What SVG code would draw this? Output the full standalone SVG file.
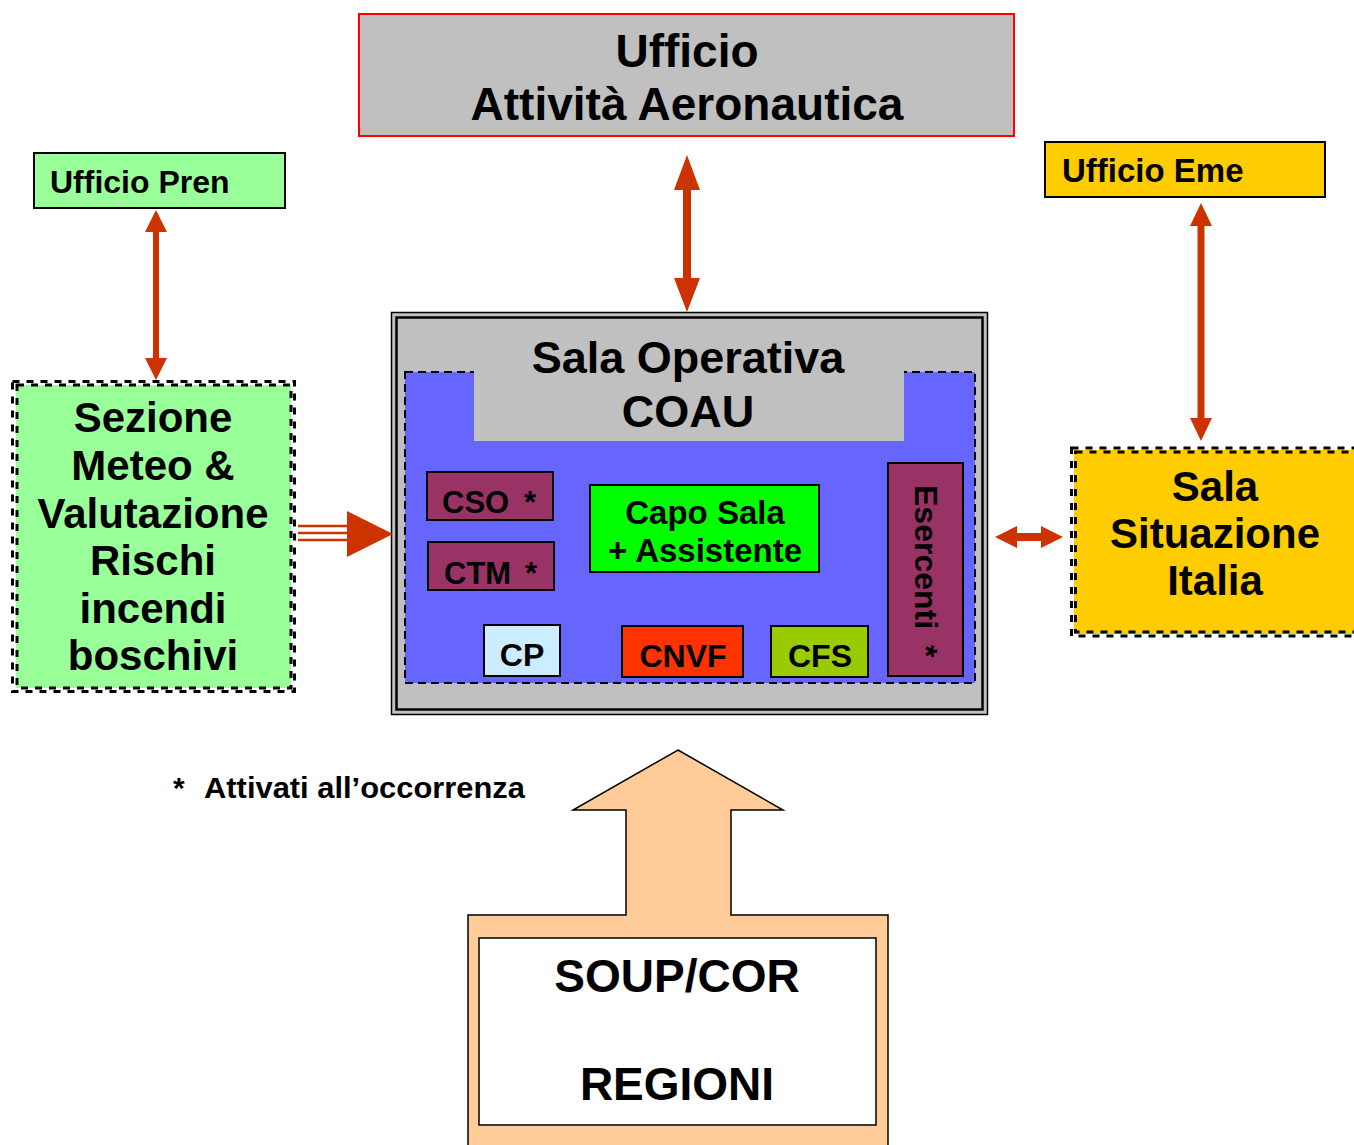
<svg xmlns="http://www.w3.org/2000/svg" width="1354" height="1145" viewBox="0 0 1354 1145">
<style>
text{font-family:"Liberation Sans",Arial,sans-serif;font-weight:bold;fill:#000}
.arr{fill:#CC3300}
.box{stroke:#000;stroke-width:2}
.dash{fill:none;stroke:#000;stroke-width:3;stroke-dasharray:7 7}
.bdash{fill:none;stroke:#000;stroke-width:2;stroke-dasharray:8 5}
.c{text-anchor:middle}
</style>
<rect width="1354" height="1145" fill="#fff"/>
<g id="ufficio-aa">
<rect x="359" y="14" width="655" height="122" fill="#C0C0C0" stroke="#FF0000" stroke-width="2"/>
<text class="c" x="687" y="67" font-size="46">Ufficio</text>
<text class="c" x="687" y="120" font-size="46">Attività Aeronautica</text>
</g>
<g id="ufficio-pren">
<rect class="box" x="34" y="153" width="251" height="55" fill="#99FF99"/>
<text x="50" y="193" font-size="32">Ufficio Pren</text>
</g>
<g id="ufficio-eme">
<rect class="box" x="1045" y="142" width="280" height="55" fill="#FFCC00"/>
<text x="1062" y="182" font-size="33">Ufficio Eme</text>
</g>
<g id="sezione-meteo">
<rect x="16" y="385" width="275" height="303" fill="#99FF99"/>
<rect class="dash" x="17" y="385" width="274" height="303"/>
<rect class="dash" x="12.5" y="381.5" width="282" height="310"/>
<text class="c" x="153" y="432" font-size="42">Sezione</text>
<text class="c" x="153" y="480" font-size="42">Meteo &amp;</text>
<text class="c" x="153" y="528" font-size="42">Valutazione</text>
<text class="c" x="153" y="575" font-size="42">Rischi</text>
<text class="c" x="153" y="623" font-size="42">incendi</text>
<text class="c" x="153" y="670" font-size="42">boschivi</text>
</g>
<g id="sala-situazione">
<rect x="1074" y="450" width="290" height="184" fill="#FFCC00"/>
<rect class="dash" x="1075.5" y="452" width="290" height="180"/>
<rect class="dash" x="1071.5" y="448" width="298" height="188"/>
<text class="c" x="1215" y="501" font-size="42">Sala</text>
<text class="c" x="1215" y="548" font-size="42">Situazione</text>
<text class="c" x="1215" y="595" font-size="42">Italia</text>
</g>
<g id="sala-operativa">
<rect x="391.5" y="312.5" width="596" height="402" fill="#C0C0C0" stroke="#000" stroke-width="1.5"/>
<rect x="396.5" y="317.5" width="586" height="392" fill="none" stroke="#000" stroke-width="2.5"/>
<rect x="405" y="372" width="570" height="311" fill="#6666FF"/>
<rect class="bdash" x="405" y="372" width="570" height="311"/>
<rect x="474" y="365" width="430" height="76" fill="#C0C0C0"/>
<text class="c" x="688" y="373" font-size="45">Sala Operativa</text>
<text class="c" x="688" y="427" font-size="45">COAU</text>
</g>
<g id="cso">
<rect class="box" x="427" y="472" width="126" height="48" fill="#993366"/>
<text x="442" y="513" font-size="31">CSO</text>
<text x="524" y="513" font-size="31">*</text>
</g>
<g id="ctm">
<rect class="box" x="428" y="542" width="126" height="48" fill="#993366"/>
<text x="444" y="584" font-size="31">CTM</text>
<text x="525" y="584" font-size="31">*</text>
</g>
<g id="capo-sala">
<rect class="box" x="590" y="485" width="229" height="87" fill="#00FF00"/>
<text class="c" x="705" y="524" font-size="33">Capo Sala</text>
<text class="c" x="705" y="562" font-size="33">+ Assistente</text>
</g>
<g id="cp">
<rect class="box" x="484" y="625" width="76" height="51" fill="#CCECFF"/>
<text class="c" x="522" y="666" font-size="32">CP</text>
</g>
<g id="cnvf">
<rect class="box" x="622" y="626" width="121" height="51" fill="#FF3300"/>
<text class="c" x="683" y="667" font-size="32">CNVF</text>
</g>
<g id="cfs">
<rect class="box" x="771" y="626" width="97" height="51" fill="#99CC00"/>
<text class="c" x="820" y="667" font-size="32">CFS</text>
</g>
<g id="esercenti">
<rect class="box" x="888" y="463" width="75" height="213" fill="#993366"/>
<text transform="translate(915,485) rotate(90)" font-size="32">Esercenti<tspan x="160">*</tspan></text>
</g>
<g id="soup-cor">
<polygon points="678,750 783,810 731,810 731,915 888,915 888,1150 468,1150 468,915 626,915 626,810 573,810" fill="#FFCC99" stroke="#000" stroke-width="1.5"/>
<rect x="479" y="938" width="397" height="187" fill="#fff" stroke="#000" stroke-width="1.5"/>
<text class="c" x="677" y="992" font-size="46">SOUP/COR</text>
<text class="c" x="677" y="1100" font-size="46">REGIONI</text>
</g>
<g id="nota">
<text x="173" y="798" font-size="30">*</text>
<text x="204" y="798" font-size="30" textLength="321" lengthAdjust="spacingAndGlyphs">Attivati all’occorrenza</text>
</g>
<g id="connectors">
<polygon class="arr" points="687,155 700,190 691,190 691,278 700,278 687,312 674,278 683,278 683,190 674,190"/>
<polygon class="arr" points="156,210 167,232 159,232 159,358 167,358 156,380 145,358 153,358 153,232 145,232"/>
<polygon class="arr" points="1201,203 1212,226 1204.5,226 1204.5,418 1212,418 1201,441 1190,418 1197.5,418 1197.5,226 1190,226"/>
<polygon class="arr" points="995,537 1017,526 1017,533 1041,533 1041,526 1063,537 1041,548 1041,541 1017,541 1017,548"/>
<g stroke="#CC3300" stroke-width="2.5">
<line x1="298" y1="526" x2="350" y2="526"/>
<line x1="298" y1="533" x2="350" y2="533"/>
<line x1="298" y1="540" x2="350" y2="540"/>
</g>
<polygon class="arr" points="347,511 393,534 347,557"/>
</g>
</svg>
